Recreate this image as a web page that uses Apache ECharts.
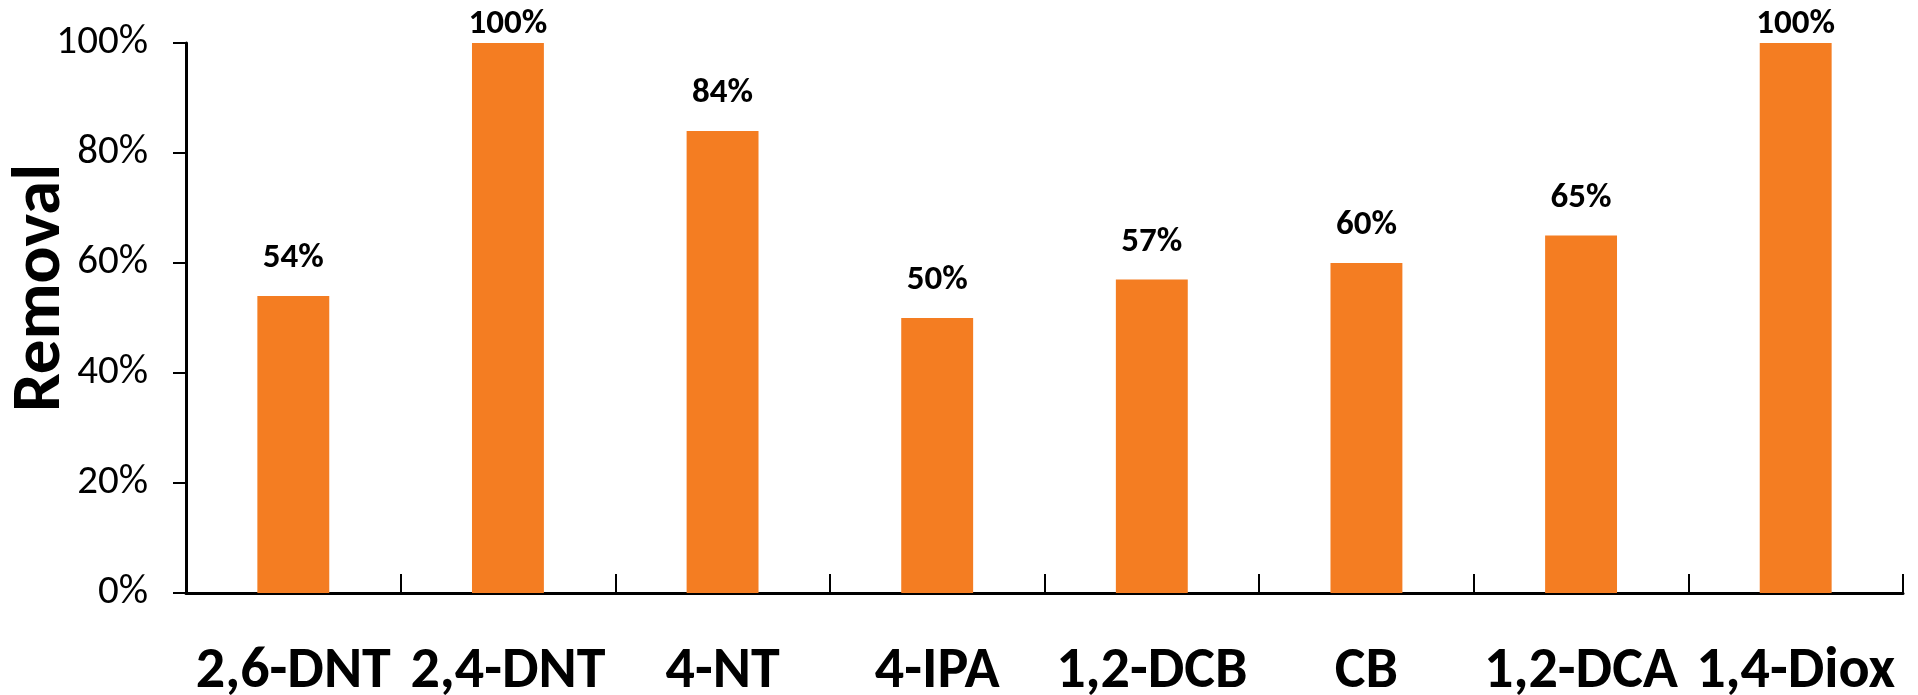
<!DOCTYPE html>
<html>
<head>
<meta charset="utf-8">
<title>Removal</title>
<script src="https://cdn.jsdelivr.net/npm/echarts@6/dist/echarts.min.js"></script>
<style>
  html, body { margin: 0; padding: 0; background: #ffffff; }
  #chart { width: 1918px; height: 695px; }
</style>
</head>
<body>
<div id="chart"></div>
<script>
// Compounds on the x axis
const categories = ['2,6-DNT', '2,4-DNT', '4-NT', '4-IPA', '1,2-DCB', 'CB', '1,2-DCA', '1,4-Diox'];
// Removal fraction for each compound
const removal = [0.54, 1.00, 0.84, 0.50, 0.57, 0.60, 0.65, 1.00];
// Y axis range and step
const yMin = 0;
const yMax = 1;
const yStep = 0.2;

const FONT = "Carlito, Lato, 'Open Sans', sans-serif";
const pct = v => Math.round(v * 100) + '%';

// Labels on full-height bars sit closer to the bar so they stay inside the canvas
const barData = removal.map(v => ({
  value: v,
  label: { distance: v >= yMax ? 1 : 20 }
}));

const chart = echarts.init(document.getElementById('chart'), null, { renderer: 'canvas' });
chart.setOption({
  backgroundColor: '#ffffff',
  animation: false,
  grid: {
    left: 186, right: 15, top: 43, bottom: 102,
    containLabel: false,
    outerBoundsMode: 'none'
  },
  xAxis: {
    type: 'category',
    data: categories,
    boundaryGap: true,
    axisLine: { show: true, lineStyle: { color: '#000000', width: 3 } },
    axisTick: { show: true, inside: true, length: 19, lineStyle: { color: '#000000', width: 2 } },
    axisLabel: {
      margin: 50,
      color: '#000000',
      fontFamily: FONT,
      fontWeight: 'bold',
      fontSize: 58,
      interval: 0,
      hideOverlap: false
    },
    splitLine: { show: false }
  },
  yAxis: {
    type: 'value',
    min: yMin,
    max: yMax,
    interval: yStep,
    name: 'Removal',
    nameLocation: 'middle',
    nameGap: 110,
    nameRotate: 90,
    nameMoveOverlap: false,
    nameTextStyle: {
      color: '#000000',
      fontFamily: FONT,
      fontWeight: 'bold',
      fontSize: 69,
      padding: [0, 0, 0, 60]
    },
    axisLine: { show: true, lineStyle: { color: '#000000', width: 3 } },
    axisTick: { show: true, inside: false, length: 13, lineStyle: { color: '#000000', width: 2 } },
    axisLabel: {
      margin: 38,
      color: '#000000',
      fontFamily: FONT,
      fontSize: 41,
      formatter: v => pct(v)
    },
    splitLine: { show: false }
  },
  series: [{
    type: 'bar',
    data: barData,
    barWidth: '33.5%',
    itemStyle: { color: '#F47D22' },
    label: {
      show: true,
      position: 'top',
      color: '#000000',
      fontFamily: FONT,
      fontWeight: 'bold',
      fontSize: 35,
      formatter: p => pct(p.value)
    }
  }]
});
</script>
</body>
</html>
